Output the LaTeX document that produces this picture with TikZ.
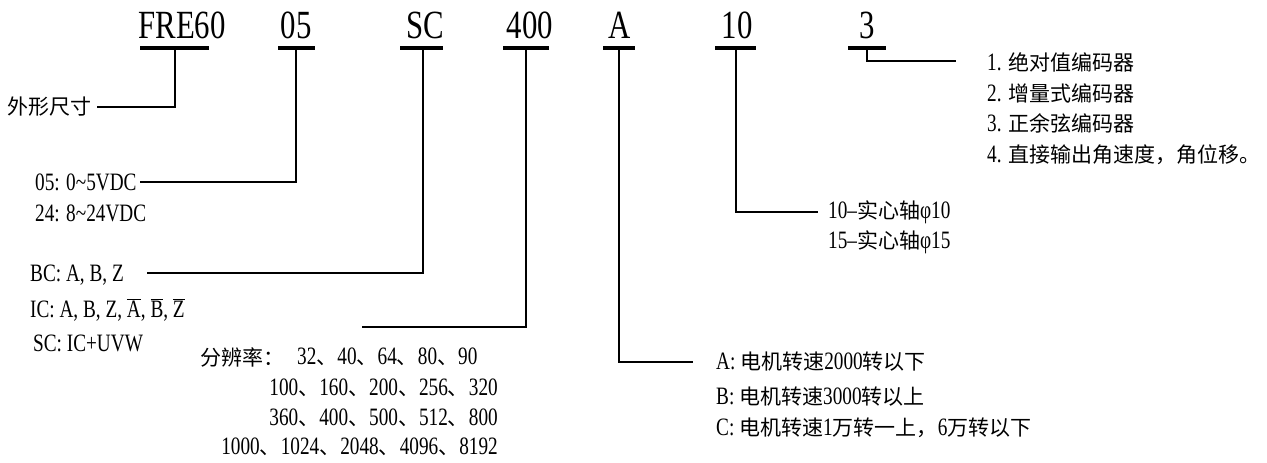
\documentclass[tikz,border=0pt]{standalone}
\usepackage{fontspec}
\setmainfont[FakeStretch=0.77]{Liberation Serif}
\newfontfamily\cjk{Noto Sans CJK SC}
\newcommand{\zh}[1]{{\cjk\fontsize{21}{21}\selectfont #1}}
\newcommand{\ovl}[1]{\ensuremath{\overline{\mbox{#1}}}}
\begin{document}
\begin{tikzpicture}[x=1pt,y=-1pt,
  hdr/.style={font=\fontsize{40}{40}\selectfont, inner sep=0pt, anchor=base},
  lbl/.style={font=\fontsize{25}{25}\selectfont, inner sep=0pt, anchor=west},
  lble/.style={font=\fontsize{25}{25}\selectfont, inner sep=0pt, anchor=east},
  bar/.style={line width=3.5pt},
  conn/.style={line width=1.4pt}]
\fill[white] (0,0) rectangle (1267,463);
\useasboundingbox (0,0) rectangle (1267,463);
% header codes
\node[hdr] (c1) at (182,38) {FRE60};
\node[hdr] (c2) at (296,38) {05};
\node[hdr] (c3) at (425,38) {SC};
\node[hdr] (c4) at (530,38) {400};
\node[hdr] (c5) at (620,38) {A};
\node[hdr] (c6) at (737,38) {10};
\node[hdr] (c7) at (867,38) {3};
% bars
\draw[bar] (140,48) -- (209,48);
\draw[bar] (278,48) -- (315,48);
\draw[bar] (400,48) -- (443,48);
\draw[bar] (503,48) -- (549,48);
\draw[bar] (603,48) -- (635,48);
\draw[bar] (715,48) -- (756,48);
\draw[bar] (848,48) -- (886,48);
% branch points
\coordinate (p1) at (175,48);
\coordinate (p2) at (296,48);
\coordinate (p3) at (423,48);
\coordinate (p4) at (526,48);
\coordinate (p5) at (619,48);
\coordinate (p6) at (736,48);
\coordinate (p7) at (867,48);
% line ends
\coordinate (e1) at (97,107);
\coordinate (e2) at (140,182);
\coordinate (e3) at (147,273);
\coordinate (e4) at (362,327);
\coordinate (e5) at (693,362);
\coordinate (e6) at (818,212);
\coordinate (e7) at (956,61);
\draw[conn] (p1) |- (e1);
\draw[conn] (p2) |- (e2);
\draw[conn] (p3) |- (e3);
\draw[conn] (p4) |- (e4);
\draw[conn] (p5) |- (e5);
\draw[conn] (p6) |- (e6);
\draw[conn] (p7) |- (e7);
% labels
\node[lbl] (l1) at (7,107) {\zh{外形尺寸}};
\node[lbl] (l2a) at (35,182) {05: 0\textasciitilde 5VDC};
\node[lbl] (l2b) at (35,213) {24: 8\textasciitilde 24VDC};
\node[lbl] (l3a) at (30,275) {BC: A, B, Z};
\node[lbl] (l3b) at (30,310) {IC: A, B, Z, \ovl{A}, \ovl{B}, \ovl{Z}};
\node[lbl] (l3c) at (33,343) {SC: IC+UVW};
\node[lbl] (l4h) at (200,357) {\zh{分辨率：}};
\node[lbl] (l4a) at (297,357) {32\zh{、}40\zh{、}64\zh{、}80\zh{、}90};
\node[lble] (l4b) at (498,388) {100\zh{、}160\zh{、}200\zh{、}256\zh{、}320};
\node[lble] (l4c) at (498,418) {360\zh{、}400\zh{、}500\zh{、}512\zh{、}800};
\node[lble] (l4d) at (498,447) {1000\zh{、}1024\zh{、}2048\zh{、}4096\zh{、}8192};
\node[lbl] (l5a) at (716,362) {A: \zh{电机转速}2000\zh{转以下}};
\node[lbl] (l5b) at (716,397) {B: \zh{电机转速}3000\zh{转以上}};
\node[lbl] (l5c) at (716,428) {C: \zh{电机转速}1\zh{万转一上，}6\zh{万转以下}};
\node[lbl] (l6a) at (828,212) {10--\zh{实心轴}φ10};
\node[lbl] (l6b) at (828,242) {15--\zh{实心轴}φ15};
\node[lbl] (l7a) at (987,62) {1. \zh{绝对值编码器}};
\node[lbl] (l7b) at (987,93) {2. \zh{增量式编码器}};
\node[lbl] (l7c) at (987,123) {3. \zh{正余弦编码器}};
\node[lbl] (l7d) at (987,155) {4. \zh{直接输出角速度，角位移。}};
\end{tikzpicture}
\end{document}
